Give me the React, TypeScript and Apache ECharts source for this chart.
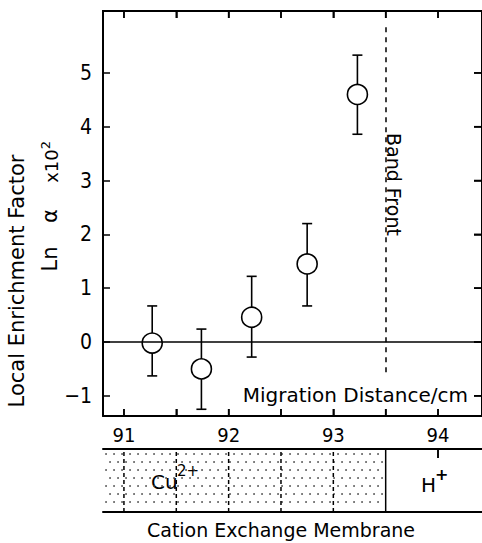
import React, { useEffect, useRef } from 'react';
import * as echarts from 'echarts';

// ---- data ----
const positions = [91.27, 91.74, 92.22, 92.75, 93.23];
const lnAlpha = [-0.02, -0.5, 0.46, 1.45, 4.6];
const errLow = [-0.63, -1.25, -0.28, 0.67, 3.86];
const errHigh = [0.67, 0.24, 1.22, 2.2, 5.33];
const xTickValues = [91, 91.5, 92, 92.5, 93, 93.5, 94];
const xLabelValues = [91, 92, 93, 94];
const yTickValues = [-1, 0, 1, 2, 3, 4, 5];
const bandFront = 93.5;
const bandFrontSpan = [5.85, -0.65];
const cuRegion = [90.8, 93.5];
const cellBoundaries = [91, 91.5, 92, 92.5, 93];
const membraneTicks = [94];

const X_MIN = 90.8;
const X_MAX = 94.42;
const Y_MIN = -1.375;
const Y_MAX = 6.15;

const TEXT_FONT = '"DejaVu Sans", "Noto Sans", sans-serif';
const NUM_FONT = '"Liberation Sans Narrow", "DejaVu Sans Condensed", "Liberation Sans", sans-serif';
const BLACK = '#000';

const mkLine = () => ({ show: true, onZero: false, lineStyle: { color: BLACK, width: 2 } });
const mkTick = (values: number[], length: number) => ({
  show: true, inside: true, length, customValues: values, lineStyle: { color: BLACK, width: 1.5 },
});
const tk = () => ({ stroke: BLACK, lineWidth: 1.6 });

export default function App() {
  const ref = useRef<HTMLDivElement>(null);

  useEffect(() => {
    if (!ref.current) return;
    const chart = echarts.init(ref.current, undefined, { renderer: 'svg' });
    const xRange = { min: X_MIN, max: X_MAX };
    const yRange = { min: Y_MIN, max: Y_MAX };

    const option: any = {
      animation: false,
      grid: [
        { left: 103, top: 11, width: 380, height: 405 },
        { left: 103, top: 449, width: 380, height: 63 },
      ],
      xAxis: [
        {
          gridIndex: 0, type: 'value', position: 'bottom', ...xRange,
          axisLine: mkLine(),
          axisTick: mkTick(xTickValues, 7),
          axisLabel: { show: true, customValues: xLabelValues, margin: 9, fontSize: 20, color: BLACK, fontFamily: NUM_FONT },
          splitLine: { show: false },
        },
        {
          gridIndex: 0, type: 'value', position: 'top', ...xRange,
          axisLine: mkLine(), axisTick: mkTick(xTickValues, 7), axisLabel: { show: false }, splitLine: { show: false },
        },
        {
          gridIndex: 1, type: 'value', position: 'top', ...xRange,
          axisLine: mkLine(), axisTick: mkTick(membraneTicks, 9), axisLabel: { show: false }, splitLine: { show: false },
        },
        {
          gridIndex: 1, type: 'value', position: 'bottom', ...xRange,
          axisLine: mkLine(), axisTick: { show: false }, axisLabel: { show: false }, splitLine: { show: false },
        },
      ],
      yAxis: [
        {
          gridIndex: 0, type: 'value', position: 'left', ...yRange,
          axisLine: mkLine(),
          axisTick: mkTick(yTickValues, 7),
          axisLabel: {
            show: true, customValues: yTickValues, margin: 11, fontSize: 21, color: BLACK, fontFamily: NUM_FONT,
            formatter: (v: number) => (v < 0 ? '\u2212' + Math.abs(v) : String(v)),
          },
          splitLine: { show: false },
        },
        {
          gridIndex: 0, type: 'value', position: 'right', ...yRange,
          axisLine: mkLine(), axisTick: mkTick(yTickValues, 8), axisLabel: { show: false }, splitLine: { show: false },
        },
        { gridIndex: 1, type: 'value', min: 0, max: 1, show: false },
      ],
      series: [
        // x ticks on bottom and top edges (inward), backing up the axis ticks
        {
          type: 'custom', xAxisIndex: 0, yAxisIndex: 0, clip: false,
          data: xTickValues.map((v) => [v, Y_MIN]),
          encode: { x: 0, y: 1 },
          renderItem: (params: any, api: any) => {
            const v = api.value(0);
            const b = api.coord([v, Y_MIN]);
            const t = api.coord([v, Y_MAX]);
            return {
              type: 'group',
              children: [
                { type: 'line', shape: { x1: b[0], y1: b[1], x2: b[0], y2: b[1] - 7 }, style: tk() },
                { type: 'line', shape: { x1: t[0], y1: t[1], x2: t[0], y2: t[1] + 7 }, style: tk() },
              ],
            };
          },
        },
        // y ticks on the right edge (inward)
        {
          type: 'custom', xAxisIndex: 0, yAxisIndex: 0, clip: false,
          data: yTickValues.map((v) => [X_MAX, v]),
          encode: { x: 0, y: 1 },
          renderItem: (params: any, api: any) => {
            const p = api.coord([X_MAX, api.value(1)]);
            return { type: 'line', shape: { x1: p[0], y1: p[1], x2: p[0] - 8, y2: p[1] }, style: tk() };
          },
        },
        // top border of the plot frame
        {
          type: 'custom', xAxisIndex: 0, yAxisIndex: 0, clip: false,
          data: [[X_MIN, Y_MAX]],
          encode: { x: 0, y: 1 },
          renderItem: (params: any, api: any) => {
            const a = api.coord([X_MIN, Y_MAX]);
            const b = api.coord([X_MAX, Y_MAX]);
            return { type: 'line', shape: { x1: a[0] - 1, y1: a[1], x2: b[0], y2: b[1] }, style: { stroke: BLACK, lineWidth: 2 } };
          },
        },
        // error bars
        {
          type: 'custom',
          xAxisIndex: 0, yAxisIndex: 0,
          z: 2,
          clip: false,
          data: positions.map((x, i) => [x, errLow[i], errHigh[i]]),
          encode: { x: 0, y: [1, 2] },
          renderItem: (params: any, api: any) => {
            const x = api.value(0);
            const lo = api.coord([x, api.value(1)]);
            const hi = api.coord([x, api.value(2)]);
            const w = 5;
            return {
              type: 'group',
              children: [
                { type: 'line', shape: { x1: lo[0], y1: lo[1], x2: hi[0], y2: hi[1] }, style: tk() },
                { type: 'line', shape: { x1: lo[0] - w, y1: lo[1], x2: lo[0] + w, y2: lo[1] }, style: tk() },
                { type: 'line', shape: { x1: hi[0] - w, y1: hi[1], x2: hi[0] + w, y2: hi[1] }, style: tk() },
              ],
            };
          },
          markLine: {
            silent: true,
            symbol: ['none', 'none'],
            label: { show: false },
            data: [
              { yAxis: 0, lineStyle: { color: BLACK, type: 'solid', width: 1.6 } },
              [
                { coord: [bandFront, bandFrontSpan[0]], lineStyle: { color: BLACK, type: [5, 5], width: 1.5 } },
                { coord: [bandFront, bandFrontSpan[1]] },
              ],
            ],
          },
        },
        // data points
        {
          type: 'scatter',
          xAxisIndex: 0, yAxisIndex: 0,
          z: 3,
          clip: false,
          symbol: 'circle',
          symbolSize: 20,
          itemStyle: { color: '#fff', borderColor: BLACK, borderWidth: 1.6, opacity: 1 },
          data: positions.map((x, i) => [x, lnAlpha[i]]),
        },
        // membrane Cu region: stippled texture
        {
          type: 'custom',
          xAxisIndex: 2, yAxisIndex: 2,
          clip: false,
          z: 1,
          data: [[cuRegion[0], cuRegion[1]]],
          encode: { x: [0, 1] },
          renderItem: (params: any, api: any) => {
            const tl = api.coord([api.value(0), 1]);
            const br = api.coord([api.value(1), 0]);
            const dots: any[] = [];
            let row = 0;
            for (let y = tl[1] + 5; y < br[1] - 2; y += 8) {
              const off = row % 2 === 0 ? 3 : 7;
              for (let x = tl[0] + off; x < br[0] - 2; x += 8) {
                dots.push({ type: 'circle', shape: { cx: x, cy: y, r: 0.85 }, style: { fill: '#444' } });
              }
              row += 1;
            }
            return { type: 'group', children: dots };
          },
        },
        // membrane: cell boundaries (dashed) and band front (solid)
        {
          type: 'custom',
          xAxisIndex: 2, yAxisIndex: 2,
          clip: false,
          z: 2,
          data: [...cellBoundaries.map((v) => [v, 0]), [bandFront, 1]],
          encode: { x: 0 },
          renderItem: (params: any, api: any) => {
            const v = api.value(0);
            const solid = api.value(1) === 1;
            const a = api.coord([v, 0]);
            const b = api.coord([v, 1]);
            return {
              type: 'line',
              shape: { x1: a[0], y1: a[1], x2: b[0], y2: b[1] },
              style: { stroke: BLACK, lineWidth: 1.5, lineDash: solid ? null : [4, 3] },
            };
          },
        },
        // membrane top tick
        {
          type: 'custom',
          xAxisIndex: 2, yAxisIndex: 2,
          clip: false,
          data: membraneTicks.map((v) => [v, 1]),
          encode: { x: 0, y: 1 },
          renderItem: (params: any, api: any) => {
            const p = api.coord([api.value(0), 1]);
            return { type: 'line', shape: { x1: p[0], y1: p[1], x2: p[0], y2: p[1] + 9 }, style: tk() };
          },
        },
      ],
      graphic: [
        {
          type: 'text', x: 468, y: 395,
          style: { text: 'Migration Distance/cm', fontSize: 20, fontFamily: TEXT_FONT, fill: BLACK, align: 'right', verticalAlign: 'middle' },
        },
        {
          type: 'text', x: 394, y: 133, rotation: -Math.PI / 2,
          style: { text: 'Band Front', fontSize: 19, fontFamily: TEXT_FONT, fill: BLACK, align: 'left', verticalAlign: 'middle' },
        },
        {
          type: 'text', x: 17, y: 281, rotation: Math.PI / 2,
          style: { text: 'Local Enrichment Factor', fontSize: 21, fontFamily: TEXT_FONT, fill: BLACK, align: 'center', verticalAlign: 'middle' },
        },
        {
          type: 'text', x: 50, y: 259, rotation: Math.PI / 2,
          style: { text: 'Ln', fontSize: 21, fontFamily: TEXT_FONT, fill: BLACK, align: 'center', verticalAlign: 'middle' },
        },
        {
          type: 'text', x: 50, y: 216, rotation: Math.PI / 2,
          style: { text: 'α', fontSize: 21, fontFamily: TEXT_FONT, fill: BLACK, align: 'center', verticalAlign: 'middle' },
        },
        {
          type: 'text', x: 51, y: 166, rotation: Math.PI / 2,
          style: { text: 'x10', fontSize: 18, fontFamily: TEXT_FONT, fill: BLACK, align: 'center', verticalAlign: 'middle' },
        },
        {
          type: 'text', x: 45, y: 145, rotation: Math.PI / 2,
          style: { text: '2', fontSize: 13, fontFamily: TEXT_FONT, fill: BLACK, align: 'center', verticalAlign: 'middle' },
        },
        {
          type: 'text', x: 151, y: 482,
          style: { text: 'Cu', fontSize: 20, fontFamily: TEXT_FONT, fill: BLACK, align: 'left', verticalAlign: 'middle' },
        },
        {
          type: 'text', x: 177, y: 471,
          style: { text: '2+', fontSize: 15, fontFamily: TEXT_FONT, fill: BLACK, align: 'left', verticalAlign: 'middle' },
        },
        {
          type: 'text', x: 421, y: 485,
          style: { text: 'H', fontSize: 20, fontFamily: TEXT_FONT, fill: BLACK, align: 'left', verticalAlign: 'middle' },
        },
        {
          type: 'text', x: 435, y: 474,
          style: { text: '+', fontSize: 16, fontWeight: 'bold', fontFamily: TEXT_FONT, fill: BLACK, align: 'left', verticalAlign: 'middle' },
        },
        {
          type: 'text', x: 281, y: 530,
          style: { text: 'Cation Exchange Membrane', fontSize: 19, fontFamily: TEXT_FONT, fill: BLACK, align: 'center', verticalAlign: 'middle' },
        },
      ],
    };

    chart.setOption(option);
    return () => chart.dispose();
  }, []);

  return (
    <div
      ref={ref}
      style={{ position: 'fixed', left: 0, top: 0, width: 482, height: 543, background: '#fff' }}
    />
  );
}
